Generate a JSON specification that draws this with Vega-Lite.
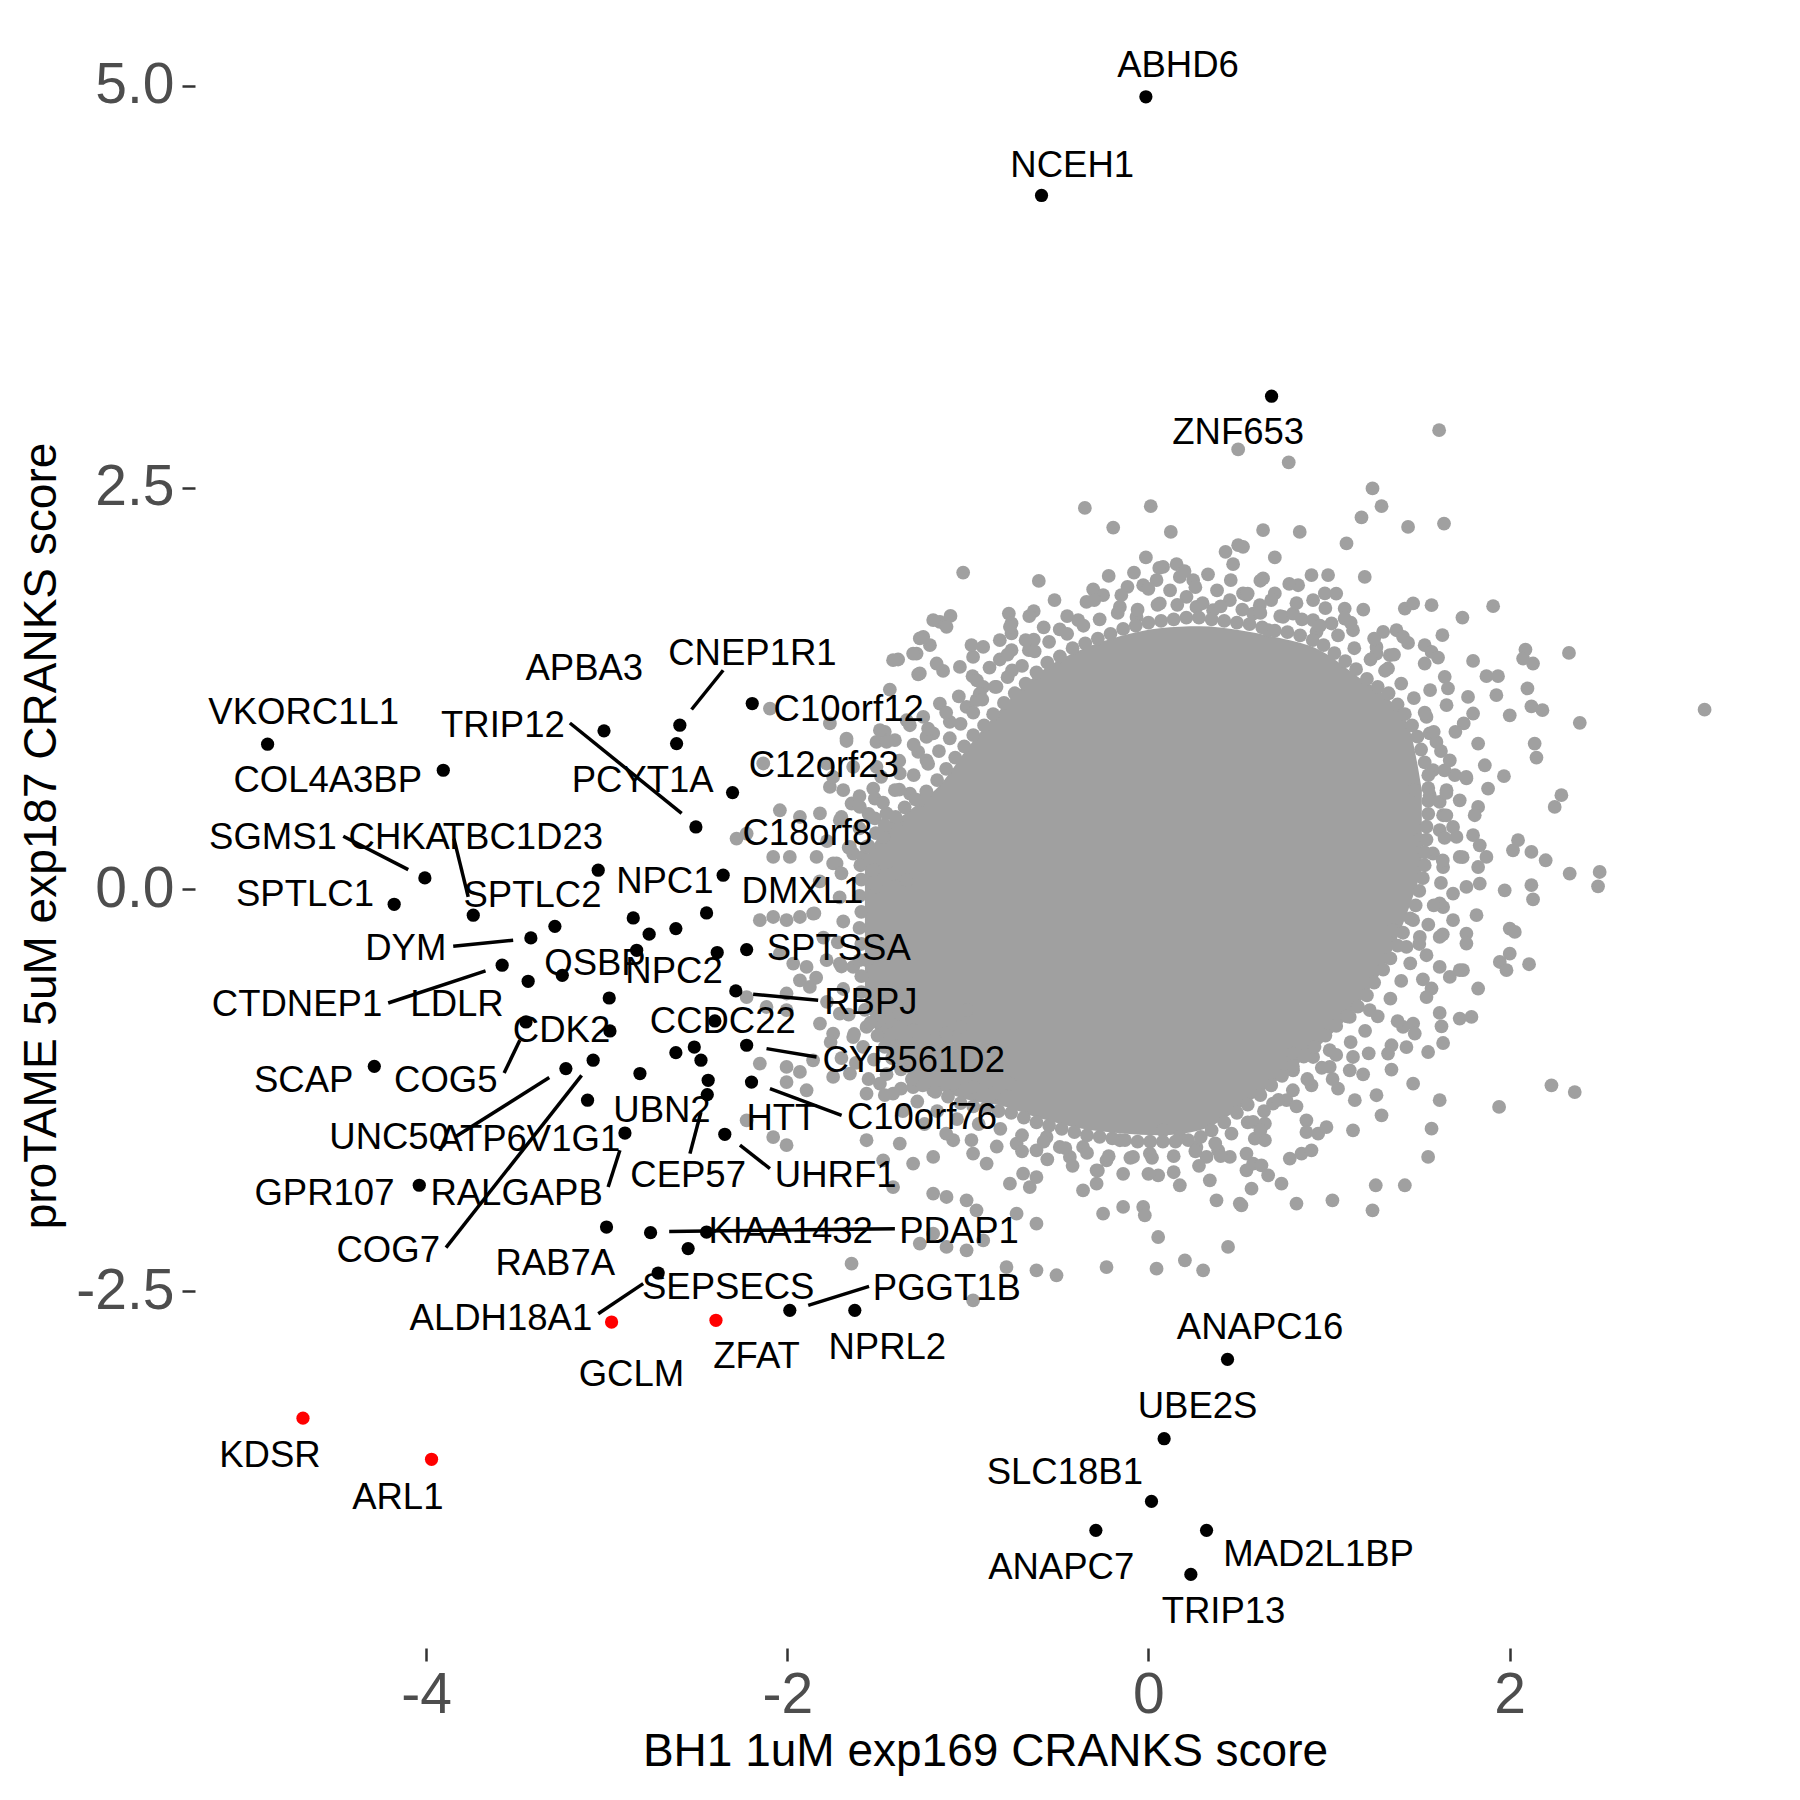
{
"$schema":"https://vega.github.io/schema/vega-lite/v6.json",
"width":1580,"height":1625,
"autosize":{"type":"none"},
"padding":{"left":195,"top":23,"right":25,"bottom":152},
"background":"#FFFFFF",
"config":{
 "view":{"stroke":null},
 "font":"Liberation Sans",
 "axis":{"domain":false,"grid":false,"labelFont":"Liberation Sans","labelFontSize":57,"labelColor":"#4D4D4D","tickColor":"#333333","tickWidth":2.5,"tickSize":13,"labelPadding":6,"titleFont":"Liberation Sans","titleFontSize":46,"titleFontWeight":"normal","titleColor":"#000000"},
 "axisX":{"titlePadding":6},
 "axisY":{"titlePadding":10,"labelPadding":8}
},
"datasets":{
 "core":[
  {"x":-1.570,"y":0.181,"y2":-0.690},
  {"x":-1.488,"y":0.337,"y2":-0.939},
  {"x":-1.321,"y":0.492,"y2":-1.157},
  {"x":-1.155,"y":0.648,"y2":-1.250},
  {"x":-0.989,"y":0.897,"y2":-1.312},
  {"x":-0.823,"y":1.115,"y2":-1.344},
  {"x":-0.601,"y":1.351,"y2":-1.424},
  {"x":-0.380,"y":1.488,"y2":-1.487},
  {"x":-0.158,"y":1.575,"y2":-1.518},
  {"x":0.063,"y":1.625,"y2":-1.530},
  {"x":0.285,"y":1.637,"y2":-1.499},
  {"x":0.506,"y":1.612,"y2":-1.362},
  {"x":0.728,"y":1.563,"y2":-1.175},
  {"x":0.949,"y":1.488,"y2":-0.970},
  {"x":1.171,"y":1.314,"y2":-0.703},
  {"x":1.337,"y":1.177,"y2":-0.410},
  {"x":1.448,"y":0.990,"y2":-0.099},
  {"x":1.514,"y":0.617,"y2":0.119}
 ],
 "bg":[
  {"x":0.497,"y":2.737},{"x":0.777,"y":2.656},{"x":1.241,"y":2.494},{"x":-0.352,"y":2.373},{"x":0.013,"y":2.384},
  {"x":-0.195,"y":2.251},{"x":0.124,"y":2.224},{"x":-1.026,"y":1.971},{"x":-0.607,"y":1.919},{"x":-0.014,"y":2.065},
  {"x":0.427,"y":2.100},{"x":0.497,"y":2.141},{"x":0.469,"y":2.023},{"x":0.081,"y":2.006},{"x":0.156,"y":2.023},
  {"x":0.174,"y":1.944},{"x":0.248,"y":1.924},{"x":0.456,"y":1.924},{"x":-0.116,"y":1.882},{"x":-0.029,"y":1.892},
  {"x":0.045,"y":1.924},{"x":-0.306,"y":1.866},{"x":-0.251,"y":1.830},{"x":-0.343,"y":1.788},{"x":-0.773,"y":1.716},
  {"x":-0.758,"y":1.654},{"x":-0.758,"y":1.592},{"x":-0.635,"y":1.731},{"x":-1.096,"y":1.701},{"x":-1.155,"y":1.664},
  {"x":-1.266,"y":1.561},{"x":-1.210,"y":1.519},{"x":-1.284,"y":1.467},{"x":-1.386,"y":1.430},{"x":-1.275,"y":1.337},
  {"x":-1.137,"y":1.359},{"x":-1.044,"y":1.384},{"x":-0.974,"y":1.326},{"x":-0.915,"y":1.260},{"x":-0.823,"y":1.430},
  {"x":-0.758,"y":1.488},{"x":-0.755,"y":1.363},{"x":-0.635,"y":1.554},{"x":-0.662,"y":1.488},{"x":-0.491,"y":1.617},
  {"x":-0.389,"y":1.675},{"x":-0.158,"y":1.757},{"x":-0.066,"y":1.695},{"x":0.063,"y":1.779},{"x":0.211,"y":1.820},
  {"x":0.266,"y":1.757},{"x":0.358,"y":1.737},{"x":0.451,"y":1.799},{"x":0.524,"y":1.841},{"x":-1.432,"y":1.243},
  {"x":-1.155,"y":1.156},{"x":-1.007,"y":1.135},{"x":-0.952,"y":1.177},{"x":-0.841,"y":1.260},{"x":-1.460,"y":0.980},
  {"x":-1.404,"y":0.928},{"x":-1.321,"y":1.021},{"x":-1.247,"y":1.073},{"x":-1.506,"y":0.917},{"x":-1.672,"y":0.923},
  {"x":-1.192,"y":0.970},{"x":-1.100,"y":1.042},{"x":-1.275,"y":0.855},{"x":-1.229,"y":0.803},{"x":-1.764,"y":1.032},
  {"x":-1.524,"y":0.627},{"x":-1.515,"y":0.565},{"x":-1.690,"y":0.617},{"x":-1.644,"y":0.534},{"x":-1.404,"y":0.617},
  {"x":-1.321,"y":0.596},{"x":-1.266,"y":0.554},{"x":-1.515,"y":0.441},{"x":-1.450,"y":0.472},{"x":-1.395,"y":0.409},
  {"x":-1.764,"y":0.637},{"x":-1.727,"y":0.161},{"x":-1.580,"y":0.202},{"x":-1.524,"y":0.119},{"x":-1.653,"y":0.264},
  {"x":-1.414,"y":1.426},{"x":-1.303,"y":1.467},{"x":-1.266,"y":1.343},{"x":-1.173,"y":1.405},{"x":-0.971,"y":1.446},
  {"x":-0.915,"y":1.508},{"x":-0.823,"y":1.550},{"x":-0.767,"y":1.633},{"x":-1.118,"y":1.633},{"x":-1.247,"y":1.571},
  {"x":-1.192,"y":1.675},{"x":-2.096,"y":1.125},{"x":-1.672,"y":0.938},{"x":-1.487,"y":0.990},{"x":-1.450,"y":0.917},
  {"x":-1.339,"y":1.052},{"x":-1.229,"y":0.948},{"x":-0.934,"y":1.218},{"x":-1.782,"y":0.783},{"x":-1.746,"y":0.699},
  {"x":-1.635,"y":0.762},{"x":-1.506,"y":0.762},{"x":-1.377,"y":0.721},{"x":-2.133,"y":0.783},{"x":-2.041,"y":0.492},
  {"x":-1.930,"y":0.451},{"x":-1.819,"y":0.472},{"x":-1.709,"y":0.430},{"x":-1.598,"y":0.513},{"x":-2.281,"y":0.316},
  {"x":-2.225,"y":0.347},{"x":-2.078,"y":0.202},{"x":-1.986,"y":0.202},{"x":-1.838,"y":0.202},{"x":-1.746,"y":0.161},
  {"x":-1.635,"y":0.223},{"x":-1.561,"y":0.264},{"x":-1.469,"y":0.326},{"x":-1.506,"y":0.015},{"x":-1.414,"y":0.098},
  {"x":-1.339,"y":0.057},{"x":-2.152,"y":-0.192},{"x":-2.078,"y":-0.172},{"x":-2.004,"y":-0.192},{"x":-1.930,"y":-0.172},
  {"x":-1.857,"y":-0.151},{"x":-2.041,"y":-0.400},{"x":-1.967,"y":-0.462},{"x":-1.893,"y":-0.483},{"x":-1.782,"y":-0.441},
  {"x":-1.709,"y":-0.462},{"x":-1.635,"y":-0.483},{"x":-1.561,"y":-0.441},{"x":-1.930,"y":-0.566},{"x":-2.004,"y":-0.648},
  {"x":-1.875,"y":-0.607},{"x":-2.225,"y":-0.670},{"x":-2.115,"y":-0.732},{"x":-2.004,"y":-0.752},{"x":-1.819,"y":-0.835},
  {"x":-1.746,"y":-0.897},{"x":-1.709,"y":-0.773},{"x":-1.635,"y":-0.919},{"x":-1.561,"y":-0.856},{"x":-1.487,"y":-0.815},
  {"x":-1.414,"y":-0.897},{"x":-1.377,"y":-0.773},{"x":-1.303,"y":-0.877},{"x":-1.266,"y":-0.981},{"x":-1.192,"y":-0.939},
  {"x":-1.118,"y":-0.897},{"x":-1.044,"y":-0.856},{"x":-1.007,"y":-0.752},{"x":-2.152,"y":-1.084},{"x":-2.004,"y":-1.105},
  {"x":-1.930,"y":-1.136},{"x":-1.857,"y":-1.064},{"x":-2.004,"y":-1.199},{"x":-1.893,"y":-1.250},{"x":-1.746,"y":-1.167},
  {"x":-1.653,"y":-1.146},{"x":-1.561,"y":-1.271},{"x":-1.487,"y":-1.209},{"x":-1.414,"y":-1.271},{"x":-1.303,"y":-1.230},
  {"x":-1.192,"y":-1.250},{"x":-1.081,"y":-1.209},{"x":-0.971,"y":-1.230},{"x":-0.860,"y":-1.271},{"x":-0.767,"y":-1.209},
  {"x":-2.225,"y":-1.437},{"x":-2.078,"y":-1.541},{"x":-2.004,"y":-1.592},{"x":-1.561,"y":-1.561},{"x":-1.469,"y":-1.686},
  {"x":-1.377,"y":-1.582},{"x":-1.303,"y":-1.706},{"x":-1.192,"y":-1.665},{"x":-1.081,"y":-1.561},{"x":-0.971,"y":-1.644},
  {"x":-0.896,"y":-1.706},{"x":-1.414,"y":-1.852},{"x":-1.192,"y":-1.893},{"x":-1.118,"y":-1.914},{"x":-1.007,"y":-1.935},
  {"x":-0.952,"y":-1.997},{"x":-0.767,"y":-1.831},{"x":-1.266,"y":-2.204},{"x":-1.192,"y":-2.142},{"x":-1.118,"y":-2.225},
  {"x":-1.007,"y":-2.246},{"x":-1.644,"y":-2.329},{"x":-0.786,"y":-2.350},{"x":-0.971,"y":-2.557},{"x":-0.657,"y":-1.852},
  {"x":-0.620,"y":-1.790},{"x":-0.694,"y":-1.769},{"x":-0.362,"y":-1.873},{"x":-0.287,"y":-1.831},{"x":0.054,"y":-1.779},
  {"x":0.174,"y":-1.841},{"x":0.340,"y":-1.810},{"x":0.377,"y":-1.935},{"x":0.506,"y":-1.955},{"x":-0.251,"y":-2.018},
  {"x":-0.140,"y":-1.976},{"x":-0.029,"y":-1.976},{"x":-0.020,"y":-2.028},{"x":0.054,"y":-2.163},{"x":0.441,"y":-2.225},
  {"x":0.202,"y":-2.308},{"x":0.303,"y":-2.370},{"x":-0.232,"y":-2.350},{"x":0.045,"y":-2.360},{"x":-0.620,"y":-2.370},
  {"x":-0.509,"y":-2.401},{"x":-0.620,"y":-2.080},{"x":-0.730,"y":-2.018},{"x":-0.915,"y":-2.184},{"x":0.451,"y":-1.665},
  {"x":0.386,"y":-1.624},{"x":0.174,"y":-1.541},{"x":0.266,"y":-1.603},{"x":0.322,"y":-1.665},{"x":-0.158,"y":-1.561},
  {"x":-0.085,"y":-1.665},{"x":0.008,"y":-1.644},{"x":-0.435,"y":-1.665},{"x":-0.362,"y":-1.603},{"x":-0.232,"y":-1.686},
  {"x":-0.287,"y":-1.748},{"x":-0.730,"y":-1.582},{"x":-0.620,"y":-1.624},{"x":-0.564,"y":-1.541},{"x":-0.491,"y":-1.603},
  {"x":0.543,"y":-1.644},{"x":0.543,"y":-1.748},{"x":0.081,"y":-1.499},
  {"x":2.333,"y":0.098},{"x":2.499,"y":0.108},{"x":2.490,"y":0.019},{"x":1.973,"y":-0.006},{"x":2.121,"y":0.026},
  {"x":2.130,"y":-0.063},{"x":1.687,"y":-0.026},{"x":1.761,"y":0.015},{"x":1.835,"y":0.036},{"x":1.817,"y":-0.161},
  {"x":1.632,"y":-0.110},{"x":1.687,"y":-0.192},{"x":1.761,"y":-0.275},{"x":1.761,"y":-0.337},{"x":2.001,"y":-0.244},
  {"x":2.029,"y":-0.265},{"x":1.613,"y":-0.296},{"x":2.001,"y":-0.400},{"x":1.946,"y":-0.452},{"x":1.983,"y":-0.503},
  {"x":2.108,"y":-0.466},{"x":1.742,"y":-0.503},{"x":1.669,"y":-0.545},{"x":1.826,"y":-0.617},{"x":1.568,"y":-0.617},
  {"x":1.540,"y":-0.670},{"x":1.613,"y":-0.769},{"x":1.623,"y":-0.852},{"x":1.632,"y":-0.956},{"x":1.724,"y":-0.804},
  {"x":1.789,"y":-0.794},{"x":1.466,"y":-0.835},{"x":1.475,"y":-0.897},{"x":1.429,"y":-0.981},{"x":1.549,"y":-1.012},
  {"x":1.346,"y":-0.970},{"x":1.327,"y":-1.022},{"x":1.346,"y":-1.121},{"x":1.466,"y":-1.209},{"x":1.613,"y":-1.312},
  {"x":1.189,"y":-1.151},{"x":1.050,"y":-1.240},{"x":1.004,"y":-1.105},{"x":1.143,"y":-1.312},{"x":1.263,"y":-1.281},
  {"x":1.291,"y":-1.406},{"x":1.115,"y":-1.126},{"x":1.133,"y":-1.043},{"x":0.903,"y":-1.219},{"x":0.801,"y":-1.126},
  {"x":0.875,"y":-1.437},{"x":0.875,"y":-1.510},{"x":0.940,"y":-1.520},{"x":0.986,"y":-1.479},{"x":1.133,"y":-1.499},
  {"x":1.568,"y":-1.489},{"x":1.549,"y":-1.665},{"x":0.783,"y":-1.675},{"x":0.848,"y":-1.644},{"x":0.903,"y":-1.624},
  {"x":0.580,"y":-1.706},{"x":0.626,"y":-1.717},{"x":0.663,"y":-1.779},{"x":0.580,"y":-1.447},{"x":0.645,"y":-1.457},
  {"x":0.589,"y":-1.551},{"x":0.645,"y":-1.561},{"x":0.737,"y":-1.831},{"x":0.571,"y":-1.862},{"x":0.515,"y":-1.966},
  {"x":0.820,"y":-1.955},{"x":1.019,"y":-1.935},{"x":1.259,"y":-1.841},{"x":1.420,"y":-1.841},{"x":1.241,"y":-1.997},
  {"x":2.232,"y":-1.219},{"x":2.361,"y":-1.261},{"x":1.942,"y":-1.354},{"x":0.690,"y":-1.333},{"x":0.765,"y":-1.312},
  {"x":0.912,"y":-1.043},{"x":1.004,"y":-1.001},{"x":0.801,"y":-1.022},{"x":1.115,"y":-0.794},{"x":1.226,"y":-0.752},
  {"x":1.410,"y":-0.856},{"x":1.355,"y":-0.255},{"x":1.429,"y":-0.358},{"x":1.503,"y":-0.296},{"x":1.540,"y":-0.410},
  {"x":1.613,"y":-0.483},{"x":1.724,"y":-0.503},{"x":1.466,"y":-0.192},{"x":1.613,"y":-0.088},
  {"x":1.610,"y":2.857},{"x":1.291,"y":2.384},{"x":1.180,"y":2.314},{"x":1.438,"y":2.255},{"x":1.637,"y":2.276},
  {"x":0.635,"y":2.235},{"x":0.838,"y":2.224},{"x":1.097,"y":2.152},{"x":0.524,"y":2.131},{"x":0.700,"y":2.065},
  {"x":1.198,"y":1.944},{"x":0.635,"y":1.934},{"x":0.700,"y":1.841},{"x":0.829,"y":1.892},{"x":0.903,"y":1.955},
  {"x":0.995,"y":1.955},{"x":0.977,"y":1.841},{"x":0.912,"y":1.799},{"x":0.617,"y":1.768},{"x":0.543,"y":1.830},
  {"x":0.580,"y":1.716},{"x":0.746,"y":1.695},{"x":0.801,"y":1.716},{"x":0.912,"y":1.675},{"x":0.931,"y":1.602},
  {"x":0.663,"y":1.612},{"x":1.014,"y":1.654},{"x":1.087,"y":1.747},{"x":1.087,"y":1.685},{"x":1.133,"y":1.612},
  {"x":1.420,"y":1.747},{"x":1.466,"y":1.779},{"x":1.568,"y":1.768},{"x":1.739,"y":1.691},{"x":1.909,"y":1.762},
  {"x":1.300,"y":1.602},{"x":1.374,"y":1.612},{"x":1.410,"y":1.571},{"x":1.438,"y":1.533},{"x":1.628,"y":1.581},
  {"x":1.263,"y":1.508},{"x":1.263,"y":1.467},{"x":1.337,"y":1.457},{"x":1.327,"y":1.374},{"x":1.530,"y":1.519},
  {"x":1.568,"y":1.477},{"x":1.604,"y":1.442},{"x":1.530,"y":1.405},{"x":1.798,"y":1.421},{"x":2.088,"y":1.492},
  {"x":2.075,"y":1.436},{"x":2.130,"y":1.405},{"x":2.329,"y":1.471},{"x":1.872,"y":1.326},{"x":1.936,"y":1.326},
  {"x":1.641,"y":1.322},{"x":1.659,"y":1.250},{"x":1.927,"y":1.208},{"x":2.099,"y":1.250},{"x":1.770,"y":1.197},
  {"x":1.651,"y":1.146},{"x":2.121,"y":1.139},{"x":2.182,"y":1.115},{"x":2.389,"y":1.036},{"x":2.001,"y":1.083},
  {"x":1.798,"y":1.094},{"x":1.746,"y":1.032},{"x":1.540,"y":1.073},{"x":1.558,"y":0.970},{"x":1.595,"y":0.917},
  {"x":1.826,"y":0.907},{"x":2.139,"y":0.907},{"x":2.149,"y":0.820},{"x":1.669,"y":0.803},{"x":1.863,"y":0.772},
  {"x":1.576,"y":0.741},{"x":1.697,"y":0.710},{"x":1.761,"y":0.690},{"x":1.969,"y":0.704},{"x":1.881,"y":0.627},
  {"x":1.475,"y":0.617},{"x":1.558,"y":0.586},{"x":1.651,"y":0.617},{"x":1.613,"y":0.544},{"x":1.724,"y":0.554},
  {"x":1.826,"y":0.513},{"x":2.287,"y":0.586},{"x":2.250,"y":0.513},{"x":1.807,"y":0.461},{"x":1.632,"y":0.461},
  {"x":1.613,"y":0.368},{"x":1.687,"y":0.388},{"x":1.706,"y":0.326},{"x":1.798,"y":0.337},{"x":1.835,"y":0.274},
  {"x":1.503,"y":0.306},{"x":2.047,"y":0.306},{"x":2.019,"y":0.243},{"x":2.121,"y":0.233},{"x":2.200,"y":0.181},
  {"x":1.872,"y":0.202},{"x":1.826,"y":0.139},{"x":1.724,"y":0.202},{"x":1.576,"y":0.223},{"x":1.632,"y":0.139},
  {"x":3.080,"y":1.118},
  {"x":-1.595,"y":0.15},{"x":-1.59,"y":0.06},{"x":-1.60,"y":-0.04},{"x":-1.59,"y":-0.14},{"x":-1.60,"y":-0.24},
  {"x":-1.59,"y":-0.34},{"x":-1.60,"y":-0.44},{"x":-1.59,"y":-0.54},{"x":-1.59,"y":-0.64},
  {"x":-1.55,"y":0.27},{"x":-1.51,"y":0.35},{"x":-1.46,"y":0.40},{"x":-1.40,"y":0.45},{"x":-1.35,"y":0.51},
  {"x":-1.29,"y":0.56},{"x":-1.23,"y":0.61},{"x":-1.17,"y":0.68},{"x":-1.12,"y":0.75},{"x":-1.07,"y":0.82},
  {"x":-1.02,"y":0.89},{"x":-0.97,"y":0.96},{"x":-0.91,"y":1.02},{"x":-0.86,"y":1.09},{"x":-0.80,"y":1.16},
  {"x":-0.74,"y":1.22},{"x":-0.68,"y":1.28},{"x":-0.62,"y":1.35},{"x":-0.56,"y":1.41},{"x":-0.49,"y":1.45},
  {"x":-0.42,"y":1.50},{"x":-0.35,"y":1.53},
  {"x":-0.28,"y":1.56},{"x":-0.21,"y":1.59},{"x":-0.14,"y":1.62},{"x":-0.07,"y":1.64},{"x":0.00,"y":1.66},
  {"x":0.07,"y":1.67},{"x":0.14,"y":1.68},{"x":0.21,"y":1.69},{"x":0.28,"y":1.69},{"x":0.35,"y":1.68},
  {"x":0.42,"y":1.67},{"x":0.49,"y":1.66},{"x":0.56,"y":1.65},{"x":0.63,"y":1.63},{"x":0.70,"y":1.61},
  {"x":0.77,"y":1.60},{"x":0.84,"y":1.58},{"x":0.91,"y":1.55},
  {"x":0.97,"y":1.52},{"x":1.03,"y":1.47},{"x":1.09,"y":1.42},{"x":1.15,"y":1.37},{"x":1.21,"y":1.31},
  {"x":1.27,"y":1.26},{"x":1.33,"y":1.22},{"x":1.38,"y":1.15},{"x":1.42,"y":1.09},{"x":1.46,"y":1.02},
  {"x":1.49,"y":0.95},{"x":1.51,"y":0.87},{"x":1.53,"y":0.79},{"x":1.55,"y":0.71},{"x":1.55,"y":0.63},
  {"x":1.55,"y":0.55},{"x":1.55,"y":0.47},{"x":1.54,"y":0.39},{"x":1.54,"y":0.31},{"x":1.53,"y":0.23},
  {"x":1.53,"y":0.15},{"x":1.52,"y":0.07},
  {"x":1.50,"y":-0.01},{"x":1.48,"y":-0.10},{"x":1.45,"y":-0.18},{"x":1.41,"y":-0.27},{"x":1.38,"y":-0.35},
  {"x":1.34,"y":-0.43},{"x":1.30,"y":-0.50},{"x":1.25,"y":-0.58},{"x":1.21,"y":-0.66},{"x":1.16,"y":-0.73},
  {"x":1.10,"y":-0.79},{"x":1.04,"y":-0.85},{"x":0.98,"y":-0.91},{"x":0.92,"y":-0.98},{"x":0.86,"y":-1.04},
  {"x":0.80,"y":-1.10},{"x":0.74,"y":-1.16},{"x":0.68,"y":-1.22},{"x":0.62,"y":-1.28},{"x":0.55,"y":-1.34},
  {"x":0.49,"y":-1.39},{"x":0.42,"y":-1.45},{"x":0.35,"y":-1.50},
  {"x":0.29,"y":-1.54},{"x":0.22,"y":-1.56},{"x":0.15,"y":-1.57},{"x":0.08,"y":-1.57},{"x":0.01,"y":-1.57},
  {"x":-0.06,"y":-1.57},{"x":-0.13,"y":-1.56},{"x":-0.20,"y":-1.55},{"x":-0.27,"y":-1.54},{"x":-0.34,"y":-1.53},
  {"x":-0.41,"y":-1.51},{"x":-0.48,"y":-1.49},{"x":-0.55,"y":-1.47},{"x":-0.62,"y":-1.45},
  {"x":-0.69,"y":-1.42},{"x":-0.76,"y":-1.39},{"x":-0.83,"y":-1.38},{"x":-0.90,"y":-1.36},{"x":-0.97,"y":-1.35},
  {"x":-1.04,"y":-1.33},{"x":-1.11,"y":-1.29},{"x":-1.18,"y":-1.26},{"x":-1.25,"y":-1.22},{"x":-1.31,"y":-1.18},
  {"x":-1.37,"y":-1.12},{"x":-1.42,"y":-1.05},{"x":-1.46,"y":-0.98},{"x":-1.50,"y":-0.91},{"x":-1.54,"y":-0.83},
  {"x":-1.57,"y":-0.75},
  {"x":-1.70,"y":0.10},{"x":-1.71,"y":-0.05},{"x":-1.69,"y":-0.20},{"x":-1.72,"y":-0.33},{"x":-1.70,"y":-0.48},
  {"x":-1.69,"y":-0.62},{"x":-1.66,"y":-0.78},{"x":-1.63,"y":-0.90},
  {"x":-1.66,"y":0.26},{"x":-1.60,"y":0.38},{"x":-1.55,"y":0.47},{"x":-1.47,"y":0.54},{"x":-1.38,"y":0.62},
  {"x":-1.30,"y":0.71},{"x":-1.22,"y":0.78},{"x":-1.16,"y":0.86},{"x":-1.10,"y":0.94},{"x":-1.04,"y":1.03},
  {"x":-0.97,"y":1.10},{"x":-0.92,"y":1.18},{"x":-0.85,"y":1.26},{"x":-0.78,"y":1.32},{"x":-0.70,"y":1.39},
  {"x":-0.63,"y":1.48},{"x":-0.55,"y":1.54},{"x":-0.45,"y":1.59},{"x":-0.36,"y":1.64},
  {"x":-0.27,"y":1.68},{"x":-0.17,"y":1.72},{"x":-0.06,"y":1.74},{"x":0.05,"y":1.77},{"x":0.16,"y":1.77},
  {"x":0.30,"y":1.78},{"x":0.40,"y":1.76},{"x":0.52,"y":1.74},{"x":0.62,"y":1.72},{"x":0.73,"y":1.70},
  {"x":0.85,"y":1.68},{"x":0.95,"y":1.64},
  {"x":1.05,"y":1.58},{"x":1.14,"y":1.50},{"x":1.23,"y":1.43},{"x":1.31,"y":1.36},{"x":1.40,"y":1.28},
  {"x":1.47,"y":1.19},{"x":1.53,"y":1.10},{"x":1.58,"y":0.98},{"x":1.62,"y":0.86},{"x":1.64,"y":0.74},
  {"x":1.65,"y":0.60},{"x":1.65,"y":0.46},{"x":1.64,"y":0.32},{"x":1.63,"y":0.18},{"x":1.62,"y":0.04},
  {"x":1.58,"y":-0.10},{"x":1.55,"y":-0.22},{"x":1.50,"y":-0.34},{"x":1.45,"y":-0.46},{"x":1.40,"y":-0.57},
  {"x":1.34,"y":-0.68},{"x":1.27,"y":-0.79},{"x":1.20,"y":-0.88},{"x":1.12,"y":-0.95},{"x":1.04,"y":-1.03},
  {"x":0.96,"y":-1.11},{"x":0.88,"y":-1.18},{"x":0.80,"y":-1.25},{"x":0.72,"y":-1.31},{"x":0.64,"y":-1.38},
  {"x":0.55,"y":-1.45},{"x":0.46,"y":-1.52},{"x":0.37,"y":-1.58},
  {"x":0.26,"y":-1.63},{"x":0.14,"y":-1.66},{"x":0.02,"y":-1.67},{"x":-0.10,"y":-1.67},{"x":-0.22,"y":-1.66},
  {"x":-0.34,"y":-1.64},{"x":-0.46,"y":-1.61},{"x":-0.58,"y":-1.57},{"x":-0.70,"y":-1.53},
  {"x":-0.82,"y":-1.49},{"x":-0.94,"y":-1.46},{"x":-1.06,"y":-1.43},{"x":-1.17,"y":-1.38},{"x":-1.28,"y":-1.32},
  {"x":-1.37,"y":-1.24},{"x":-1.45,"y":-1.15},{"x":-1.52,"y":-1.06},{"x":-1.58,"y":-0.98},
  {"x":-1.82,"y":0.05},{"x":-1.85,"y":-0.15},{"x":-1.80,"y":-0.30},{"x":-1.84,"y":-0.55},{"x":-1.78,"y":-0.70},
  {"x":-1.76,"y":-0.95},{"x":-1.70,"y":-1.05},
  {"x":-1.78,"y":0.30},{"x":-1.70,"y":0.45},{"x":-1.60,"y":0.58},{"x":-1.48,"y":0.70},{"x":-1.38,"y":0.80},
  {"x":-1.30,"y":0.90},{"x":-1.22,"y":1.00},{"x":-1.12,"y":1.10},{"x":-1.05,"y":1.20},{"x":-0.95,"y":1.30},
  {"x":-0.88,"y":1.38},{"x":-0.78,"y":1.46},{"x":-0.68,"y":1.55},{"x":-0.58,"y":1.63},{"x":-0.45,"y":1.70},
  {"x":-0.30,"y":1.80},{"x":-0.15,"y":1.83},{"x":0.00,"y":1.87},{"x":0.12,"y":1.86},{"x":0.26,"y":1.88},
  {"x":0.38,"y":1.86},{"x":0.55,"y":1.84},{"x":0.68,"y":1.80},{"x":0.82,"y":1.78},{"x":0.98,"y":1.75},
  {"x":1.12,"y":1.66},{"x":1.25,"y":1.56},{"x":1.36,"y":1.46},{"x":1.56,"y":1.24},{"x":1.70,"y":0.98},
  {"x":1.76,"y":0.70},{"x":1.74,"y":0.20},
  {"x":1.63,"y":-0.28},{"x":1.52,"y":-0.56},{"x":1.38,"y":-0.82},{"x":1.22,"y":-1.02},{"x":1.02,"y":-1.18},
  {"x":0.82,"y":-1.35},{"x":0.62,"y":-1.50},{"x":0.40,"y":-1.66},
  {"x":0.28,"y":-1.72},{"x":0.14,"y":-1.76},{"x":0.00,"y":-1.77},{"x":-0.14,"y":-1.77},{"x":-0.28,"y":-1.75},
  {"x":-0.42,"y":-1.72},{"x":-0.56,"y":-1.68},{"x":-0.70,"y":-1.63},
  {"x":-0.84,"y":-1.60},{"x":-0.98,"y":-1.56},{"x":-1.12,"y":-1.52},{"x":-1.24,"y":-1.46},{"x":-1.36,"y":-1.38},
  {"x":-1.46,"y":-1.28},{"x":-1.55,"y":-1.18},{"x":-1.62,"y":-1.08},
  {"x":-0.22,"y":1.95},{"x":-0.08,"y":1.97},{"x":0.06,"y":2.00},{"x":0.20,"y":1.98},{"x":0.33,"y":1.96},
  {"x":0.62,"y":1.92},{"x":0.78,"y":1.90},{"x":1.04,"y":1.84},{"x":1.19,"y":1.74},{"x":-0.52,"y":1.80},
  {"x":-0.66,"y":1.70},{"x":-0.98,"y":1.52}
 ],
 "hits":[
  {"gene":"ABHD6","x":-0.014,"y":4.931,"grp":"black"},
  {"gene":"NCEH1","x":-0.592,"y":4.317,"grp":"black"},
  {"gene":"ZNF653","x":0.682,"y":3.068,"grp":"black"},
  {"gene":"VKORC1L1","x":-4.878,"y":0.903,"grp":"black"},
  {"gene":"COL4A3BP","x":-3.905,"y":0.741,"grp":"black"},
  {"gene":"APBA3","x":-3.015,"y":0.986,"grp":"black"},
  {"gene":"CNEP1R1","x":-2.595,"y":1.021,"grp":"black"},
  {"gene":"PCYT1A","x":-2.613,"y":0.907,"grp":"black"},
  {"gene":"C10orf12","x":-2.194,"y":1.156,"grp":"black"},
  {"gene":"C12orf23","x":-2.303,"y":0.602,"grp":"black"},
  {"gene":"TRIP12","x":-2.506,"y":0.388,"grp":"black"},
  {"gene":"CHKA","x":-4.007,"y":0.071,"grp":"black"},
  {"gene":"SPTLC1","x":-4.177,"y":-0.093,"grp":"black"},
  {"gene":"TBC1D23","x":-3.739,"y":-0.161,"grp":"black"},
  {"gene":"SPTLC2","x":-3.047,"y":0.119,"grp":"black"},
  {"gene":"DMXL1","x":-2.355,"y":0.088,"grp":"black"},
  {"gene":"DYM","x":-3.420,"y":-0.302,"grp":"black"},
  {"gene":"SGMS1","x":-3.287,"y":-0.230,"grp":"black"},
  {"gene":"CTDNEP1","x":-3.579,"y":-0.472,"grp":"black"},
  {"gene":"LDLR","x":-3.435,"y":-0.572,"grp":"black"},
  {"gene":"OSBP","x":-3.246,"y":-0.535,"grp":"black"},
  {"gene":"COG5","x":-2.986,"y":-0.676,"grp":"black"},
  {"gene":"C18orf8","x":-2.447,"y":-0.147,"grp":"black"},
  {"gene":"NPC1","x":-2.853,"y":-0.178,"grp":"black"},
  {"gene":"hit25","x":-2.765,"y":-0.279,"grp":"black"},
  {"gene":"hit26","x":-2.617,"y":-0.244,"grp":"black"},
  {"gene":"hit27","x":-2.834,"y":-0.379,"grp":"black"},
  {"gene":"NPC2","x":-2.388,"y":-0.393,"grp":"black"},
  {"gene":"SPTSSA","x":-2.225,"y":-0.375,"grp":"black"},
  {"gene":"RBPJ","x":-2.285,"y":-0.632,"grp":"black"},
  {"gene":"CCDC22","x":-2.401,"y":-0.819,"grp":"black"},
  {"gene":"hit32","x":-2.982,"y":-0.881,"grp":"black"},
  {"gene":"CDK2","x":-3.447,"y":-0.825,"grp":"black"},
  {"gene":"SCAP","x":-4.287,"y":-1.101,"grp":"black"},
  {"gene":"UNC50","x":-3.226,"y":-1.115,"grp":"black"},
  {"gene":"COG7","x":-3.075,"y":-1.063,"grp":"black"},
  {"gene":"ATP6V1G1","x":-3.106,"y":-1.312,"grp":"black"},
  {"gene":"hit38","x":-2.617,"y":-1.016,"grp":"black"},
  {"gene":"hit39","x":-2.515,"y":-0.981,"grp":"black"},
  {"gene":"hit40","x":-2.478,"y":-1.063,"grp":"black"},
  {"gene":"UBN2","x":-2.816,"y":-1.146,"grp":"black"},
  {"gene":"hit42","x":-2.438,"y":-1.188,"grp":"black"},
  {"gene":"CEP57","x":-2.443,"y":-1.277,"grp":"black"},
  {"gene":"CYB561D2","x":-2.225,"y":-0.970,"grp":"black"},
  {"gene":"C10orf76","x":-2.198,"y":-1.199,"grp":"black"},
  {"gene":"RALGAPB","x":-2.899,"y":-1.516,"grp":"black"},
  {"gene":"UHRF1","x":-2.346,"y":-1.524,"grp":"black"},
  {"gene":"GPR107","x":-4.038,"y":-1.841,"grp":"black"},
  {"gene":"RAB7A","x":-3.001,"y":-2.101,"grp":"black"},
  {"gene":"PDAP1","x":-2.757,"y":-2.136,"grp":"black"},
  {"gene":"KIAA1432","x":-2.447,"y":-2.132,"grp":"black"},
  {"gene":"ALDH18A1","x":-2.549,"y":-2.235,"grp":"black"},
  {"gene":"SEPSECS","x":-2.715,"y":-2.387,"grp":"black"},
  {"gene":"PGGT1B","x":-1.986,"y":-2.619,"grp":"black"},
  {"gene":"NPRL2","x":-1.626,"y":-2.619,"grp":"black"},
  {"gene":"ANAPC16","x":0.438,"y":-2.924,"grp":"black"},
  {"gene":"UBE2S","x":0.087,"y":-3.418,"grp":"black"},
  {"gene":"SLC18B1","x":0.017,"y":-3.808,"grp":"black"},
  {"gene":"ANAPC7","x":-0.291,"y":-3.988,"grp":"black"},
  {"gene":"MAD2L1BP","x":0.322,"y":-3.988,"grp":"black"},
  {"gene":"TRIP13","x":0.235,"y":-4.262,"grp":"black"},
  {"gene":"KDSR","x":-4.682,"y":-3.290,"grp":"red"},
  {"gene":"ARL1","x":-3.970,"y":-3.546,"grp":"red"},
  {"gene":"GCLM","x":-2.973,"y":-2.692,"grp":"red"},
  {"gene":"ZFAT","x":-2.395,"y":-2.681,"grp":"red"}
 ],
 "labs":[
  {"gene":"ABHD6","x":0.164,"y":5.141},{"gene":"NCEH1","x":-0.422,"y":4.521},{"gene":"ZNF653","x":0.497,"y":2.857},
  {"gene":"VKORC1L1","x":-4.678,"y":1.115},{"gene":"COL4A3BP","x":-4.545,"y":0.693},{"gene":"APBA3","x":-3.124,"y":1.388},
  {"gene":"CNEP1R1","x":-2.193,"y":1.483},{"gene":"TRIP12","x":-3.575,"y":1.034},{"gene":"PCYT1A","x":-2.801,"y":0.691},
  {"gene":"C10orf12","x":-1.660,"y":1.133},{"gene":"C12orf23","x":-1.798,"y":0.786},{"gene":"C18orf8","x":-1.889,"y":0.365},
  {"gene":"SGMS1","x":-4.848,"y":0.339},{"gene":"CHKA","x":-4.149,"y":0.339},{"gene":"TBC1D23","x":-3.464,"y":0.339},
  {"gene":"SPTLC1","x":-4.671,"y":-0.018},{"gene":"SPTLC2","x":-3.411,"y":-0.021},{"gene":"NPC1","x":-2.678,"y":0.063},
  {"gene":"DMXL1","x":-1.916,"y":0.001},{"gene":"DYM","x":-4.113,"y":-0.351},{"gene":"OSBP","x":-3.065,"y":-0.444},
  {"gene":"SPTSSA","x":-1.715,"y":-0.350},{"gene":"NPC2","x":-2.627,"y":-0.497},{"gene":"CTDNEP1","x":-4.715,"y":-0.703},
  {"gene":"LDLR","x":-3.829,"y":-0.703},{"gene":"RBPJ","x":-1.537,"y":-0.690},{"gene":"CCDC22","x":-2.357,"y":-0.808},
  {"gene":"CDK2","x":-3.250,"y":-0.861},{"gene":"CYB561D2","x":-1.300,"y":-1.048},{"gene":"SCAP","x":-4.678,"y":-1.172},
  {"gene":"COG5","x":-3.891,"y":-1.172},{"gene":"UBN2","x":-2.694,"y":-1.359},{"gene":"HTT","x":-2.030,"y":-1.411},
  {"gene":"C10orf76","x":-1.254,"y":-1.406},{"gene":"UNC50","x":-4.205,"y":-1.527},{"gene":"ATP6V1G1","x":-3.429,"y":-1.540},
  {"gene":"CEP57","x":-2.549,"y":-1.764},{"gene":"UHRF1","x":-1.732,"y":-1.764},{"gene":"GPR107","x":-4.563,"y":-1.879},
  {"gene":"RALGAPB","x":-3.499,"y":-1.879},{"gene":"COG7","x":-4.210,"y":-2.232},{"gene":"KIAA1432","x":-1.981,"y":-2.111},
  {"gene":"PDAP1","x":-1.049,"y":-2.111},{"gene":"RAB7A","x":-3.285,"y":-2.310},{"gene":"SEPSECS","x":-2.327,"y":-2.459},
  {"gene":"PGGT1B","x":-1.116,"y":-2.469},{"gene":"ALDH18A1","x":-3.586,"y":-2.653},{"gene":"NPRL2","x":-1.446,"y":-2.832},
  {"gene":"ZFAT","x":-2.170,"y":-2.889},{"gene":"GCLM","x":-2.863,"y":-3.005},{"gene":"ANAPC16","x":0.618,"y":-2.713},
  {"gene":"UBE2S","x":0.272,"y":-3.205},{"gene":"SLC18B1","x":-0.463,"y":-3.610},{"gene":"ANAPC7","x":-0.483,"y":-4.206},
  {"gene":"MAD2L1BP","x":0.942,"y":-4.123},{"gene":"TRIP13","x":0.416,"y":-4.475},{"gene":"KDSR","x":-4.865,"y":-3.509},
  {"gene":"ARL1","x":-4.157,"y":-3.768}
 ],
 "segs":[
  {"x":-4.459,"y":0.330,"x2":-4.099,"y2":0.123},
  {"x":-3.846,"y":0.316,"x2":-3.767,"y2":-0.047},
  {"x":-3.850,"y":-0.354,"x2":-3.518,"y2":-0.317},
  {"x":-4.210,"y":-0.707,"x2":-3.671,"y2":-0.507},
  {"x":-3.204,"y":1.035,"x2":-2.585,"y2":0.472},
  {"x":-2.355,"y":1.363,"x2":-2.530,"y2":1.119},
  {"x":-2.189,"y":-0.653,"x2":-1.829,"y2":-0.690},
  {"x":-2.115,"y":-0.991,"x2":-1.838,"y2":-1.043},
  {"x":-2.096,"y":-1.240,"x2":-1.699,"y2":-1.406},
  {"x":-2.262,"y":-1.592,"x2":-2.096,"y2":-1.737},
  {"x":-2.539,"y":-1.644,"x2":-2.478,"y2":-1.385},
  {"x":-2.992,"y":-1.852,"x2":-2.927,"y2":-1.623},
  {"x":-3.481,"y":-0.939,"x2":-3.568,"y2":-1.142},
  {"x":-3.840,"y":-1.541,"x2":-3.318,"y2":-1.171},
  {"x":-3.890,"y":-2.229,"x2":-3.139,"y2":-1.157},
  {"x":-2.654,"y":-2.128,"x2":-1.404,"y2":-2.111},
  {"x":-3.047,"y":-2.640,"x2":-2.798,"y2":-2.453},
  {"x":-1.884,"y":-2.588,"x2":-1.547,"y2":-2.470}
 ]
},
"encoding":{
 "x":{"field":"x","type":"quantitative","scale":{"domain":[-5.28,3.47],"nice":false,"zero":false},"axis":{"values":[-4,-2,0,2],"labelExpr":"'' + datum.value","title":"BH1 1uM exp169 CRANKS score"}},
 "y":{"field":"y","type":"quantitative","scale":{"domain":[-4.72,5.39],"nice":false,"zero":false},"axis":{"values":[-2.5,0,2.5,5],"labelExpr":"replace(format(datum.value, '.1f'), '\u2212', '-')","title":"proTAME 5uM exp187 CRANKS score"}}
},
"layer":[
 {"data":{"name":"core"},"mark":{"type":"area","color":"#A0A0A0","interpolate":"monotone"},"encoding":{"y2":{"field":"y2"}}},
 {"data":{"name":"bg"},"mark":{"type":"point","filled":true,"size":190,"color":"#A0A0A0","opacity":1}},
 {"data":{"name":"segs"},"mark":{"type":"rule","color":"#000000","strokeWidth":3.5},"encoding":{"x2":{"field":"x2"},"y2":{"field":"y2"}}},
 {"data":{"name":"hits"},"mark":{"type":"point","filled":true,"size":175,"opacity":1},"encoding":{"color":{"field":"grp","type":"nominal","scale":{"domain":["black","red"],"range":["#000000","#FF0000"]},"legend":null}}},
 {"data":{"name":"labs"},"mark":{"type":"text","fontSize":36.5,"font":"Liberation Sans","color":"#000000","align":"center","baseline":"middle","dy":3},"encoding":{"text":{"field":"gene"}}}
]
}
